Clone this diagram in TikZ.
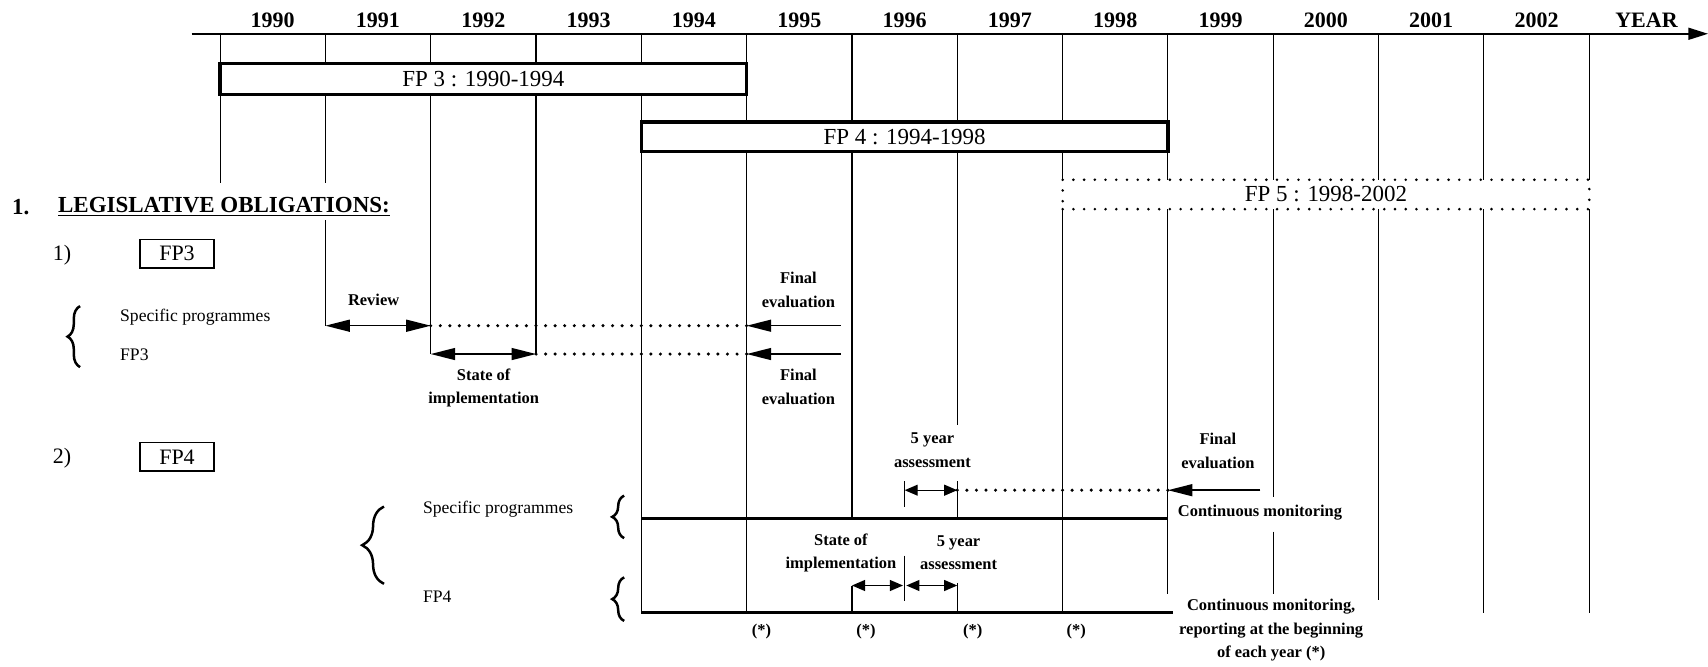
\documentclass[tikz,border=0pt]{standalone}
\usepackage{fontspec}
\setmainfont{Liberation Serif}
\usetikzlibrary{arrows.meta}
\usetikzlibrary{decorations.pathreplacing}

\begin{document}
\begin{tikzpicture}[x=0.2mm, y=-0.2mm,
	gridline/.style={line width=0.55pt},
	fpbox/.style={draw, line width=1.6pt, minimum width=96.69mm, minimum height=5.4mm, inner sep=0pt, font=\fontsize{12}{14}\selectfont},
	fpdots/.style={draw, line width=1.5pt, dash pattern=on 0pt off 5.6pt, line cap=round, minimum width=96.69mm, minimum height=5.4mm, inner sep=0pt, font=\fontsize{12}{14}\selectfont},
	tagbox/.style={draw, line width=0.7pt, minimum width=13.6mm, minimum height=5.2mm, inner sep=0pt, font=\fontsize{11.5}{13}\selectfont},
	dotline/.style={line width=1.8pt, dash pattern=on 0pt off 5pt, line cap=round},
	barline/.style={line width=1.5pt},
	bigarrow/.style={line width=0.8pt, >={Triangle[length=4.5mm, width=2.2mm]}},
	smallarrow/.style={line width=0.7pt, >={Triangle[length=2.4mm, width=2mm]}},
	curly/.style={decorate, decoration={brace, amplitude=#1}, line width=1.3pt},
	yearlbl/.style={font=\fontsize{11.5}{13}\selectfont\bfseries},
	biglbl/.style={font=\fontsize{11.5}{13}\selectfont},
	smalllbl/.style={font=\fontsize{8.6}{12.3}\selectfont\bfseries, align=center, inner sep=0pt},
	plainlbl/.style={font=\fontsize{9.2}{11}\selectfont, anchor=west, inner sep=0pt}
]
\useasboundingbox (0,0) rectangle (1568,612);

\coordinate (axisstart) at (176,31);
\coordinate (axisend) at (1568,31);
\draw[line width=0.8pt, -{Triangle[length=3.6mm, width=2.2mm]}] (axisstart) -- (axisend);

\foreach \yr [count=\i from 0] in {1990,...,2002}
	\node[yearlbl] (yr\i) at ({250.3+96.69*\i},19) {\yr};
\node[yearlbl] (yeartag) at (1511.5,19) {YEAR};

\foreach \i/\ya/\yb in {0/31/58, 0/87/168, 1/31/58, 1/87/168, 1/202/299,
		2/31/58, 2/87/325, 3/31/58, 3/87/325,
		4/31/58, 4/87/112, 4/139/562.5, 5/31/58, 5/87/112, 5/139/562.5,
		6/31/112, 6/139/476, 6/537.5/562.5,
		7/31/112, 7/139/390, 7/442/476, 7/535/562.5,
		8/31/112, 8/139/165, 8/192/562.5, 9/31/112, 9/139/165, 9/192/545,
		10/31/165, 10/192/456, 10/488/545, 11/31/165, 11/192/551,
		12/31/165, 12/192/563, 13/31/165, 13/192/563}
	\draw[gridline] ({202+96.69*\i},\ya) -- ({202+96.69*\i},\yb);

\node[fpbox, minimum height=5.8mm] (fpthree) at (443.7,72.5) {FP 3 : 1990-1994};
\node[fpbox] (fpfour) at (830.5,125.5) {FP 4 : 1994-1998};
\node[fpdots] (fpfive) at (1217.3,178.5) {FP 5 : 1998-2002};

\node[font=\fontsize{12}{14}\selectfont\bfseries] (secnum) at (19,190) {1.};
\node[font=\fontsize{12}{14}\selectfont\bfseries, anchor=west, inner sep=0pt] (sectitle) at (53,190) {\underline{LEGISLATIVE OBLIGATIONS:}};

\node[biglbl] (numone) at (57,234) {1)};
\node[tagbox] (tagthree) at (162.5,233) {FP3};
\draw[curly=2.3mm] (73.5,337) -- (73.5,281);
\node[plainlbl] (specthree) at (110,291) {Specific programmes};
\node[plainlbl] (fpthreelbl) at (110,326) {FP3};

\coordinate (revl) at (298.7,299);
\coordinate (revr) at (395.4,299);
\coordinate (fina) at (685.5,299);
\coordinate (finatail) at (772,299);
\coordinate (soil) at (395.4,325);
\coordinate (soir) at (492.1,325);
\coordinate (finb) at (685.5,325);
\coordinate (finbtail) at (772,325);

\draw[bigarrow, <->] (revl) -- (revr);
\draw[dotline] (revr) -- (fina);
\draw[bigarrow, ->] (finatail) -- (fina);
\draw[bigarrow, <->] (soil) -- (soir);
\draw[dotline] (soir) -- (finb);
\draw[bigarrow, ->] (finbtail) -- (finb);

\node[smalllbl] (review) at (343,275) {Review};
\node[smalllbl] (finaltop) at (733,266) {Final\\evaluation};
\node[smalllbl] (finalbot) at (733,355) {Final\\evaluation};
\node[smalllbl] (soilbl) at (444,356) {State of\\implementation};

\node[biglbl] (numtwo) at (57,421) {2)};
\node[tagbox] (tagfour) at (162.5,419.5) {FP4};
\draw[curly=4mm] (352.5,536) -- (352.5,465);
\node[plainlbl] (specfour) at (388,467.5) {Specific programmes};
\node[plainlbl] (fpfourlbl) at (388,548) {FP4};
\draw[curly=2.2mm] (573,494) -- (573,455);
\draw[curly=2.2mm] (573,570) -- (573,530);

\coordinate (spa) at (588.8,476);
\coordinate (spb) at (1072.2,476);
\coordinate (bta) at (588.8,562.5);
\coordinate (btb) at (1077,562.5);
\draw[barline] (spa) -- (spb);
\draw[barline] (bta) -- (btb);

\coordinate (fya) at (830.5,450);
\coordinate (fyb) at (878.8,450);
\coordinate (fev) at (1072.2,450);
\coordinate (fevtail) at (1157,450);
\draw[gridline] (830.5,442) -- (830.5,465);
\draw[smallarrow, <->] (fya) -- (fyb);
\draw[dotline] (fyb) -- (fev);
\draw[bigarrow, ->] (fevtail) -- (fev);

\coordinate (sia) at (782.1,537.5);
\coordinate (sib) at (829,537.5);
\coordinate (fza) at (832,537.5);
\coordinate (fzb) at (878.8,537.5);
\draw[smallarrow, <->] (sia) -- (sib);
\draw[gridline] (830.5,510) -- (830.5,552);
\draw[smallarrow, <->] (fza) -- (fzb);

\node[smalllbl] (fyrtop) at (856,413.5) {5 year\\assessment};
\node[smalllbl] (fevtop) at (1118,414) {Final\\evaluation};
\node[smalllbl, anchor=west] (contmon) at (1081,471) {Continuous monitoring};
\node[smalllbl] (soilow) at (772,507.5) {State of\\implementation};
\node[smalllbl] (fyrlow) at (880,507.5) {5 year\\assessment};
\foreach \x [count=\k] in {699,795,893,988}
	\node[smalllbl] (star\k) at (\x,580) {(*)};
\node[smalllbl] (contrep) at (1167,578.5) {Continuous monitoring,\\reporting at the beginning\\of each year (*)};
\end{tikzpicture}
\end{document}
